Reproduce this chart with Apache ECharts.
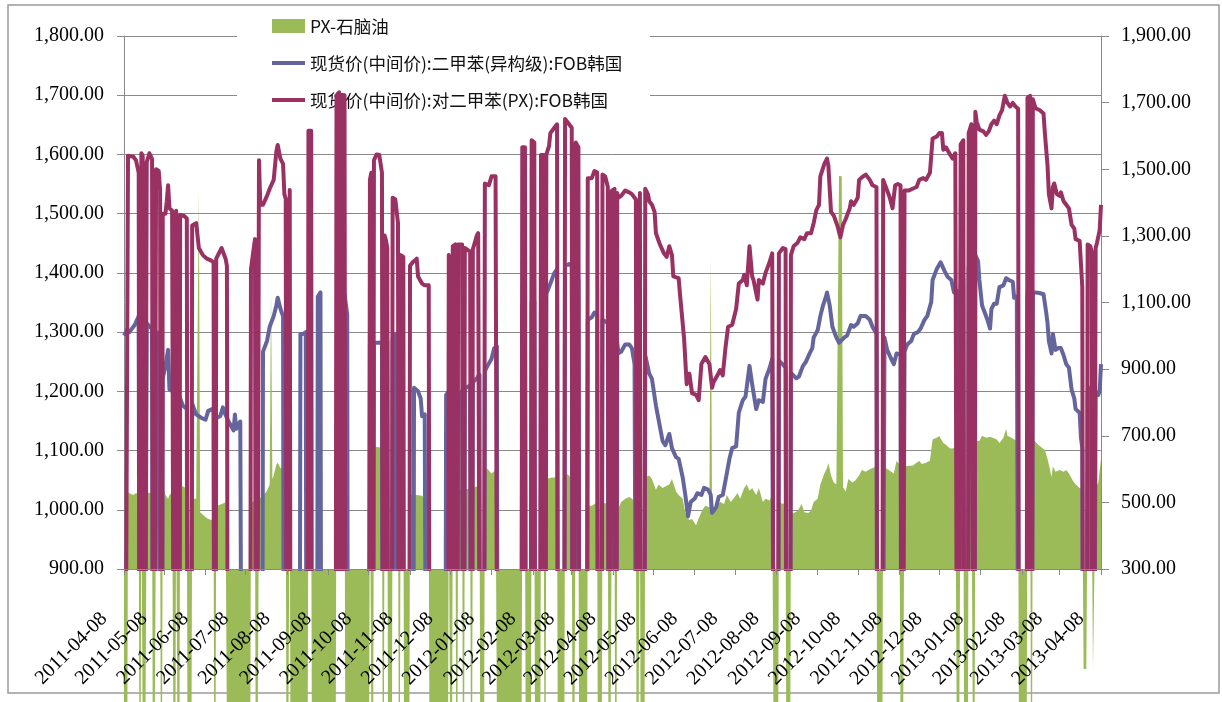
<!DOCTYPE html>
<html><head><meta charset="utf-8">
<script src="https://cdn.jsdelivr.net/npm/echarts@6/dist/echarts.min.js"></script>
<style>html,body{margin:0;padding:0;background:#fff}#c{width:1222px;height:702px}</style>
</head><body><div id="c"></div>
<script>
// x axis: calendar days from START_DATE to END_DATE; data x = day offset from START_DATE
const START_DATE = '2011-04-08';
const END_DATE = '2013-04-08';
const SERIES_NAMES = ['PX-石脑油', '现货价(中间价):二甲苯(异构级):FOB韩国', '现货价(中间价):对二甲苯(PX):FOB韩国'];

// PX-naphtha spread (right axis); large negative where PX missing, 0 where both missing
const PX_NAPHTHA = [[0,-900],[2,-900],[3,530],[7,522],[9,528],[11,522],[12,-900],[13,525],[14,528],[15,-900],[17,530],[19,528],[21,530],[22,-900],[24,543],[26,549],[27,540],[28,-900],[29,549],[31,522],[33,511],[34,522],[36,530],[38,-900],[39,533],[40,535],[41,-900],[42,538],[44,549],[47,540],[48,-900],[50,-900],[51,511],[54,511],[55,505],[56,1436],[57,470],[59,463],[62,452],[65,447],[67,450],[68,-900],[69,480],[70,490],[73,495],[76,500],[77,500],[78,-900],[94,-900],[95,500],[98,505],[99,-900],[100,-900],[101,511],[104,520],[107,535],[109,554],[110,1140],[111,570],[112,581],[114,613],[115,620],[117,603],[119,600],[120,600],[121,600],[122,-900],[123,-900],[124,600],[125,-900],[137,-900],[138,650],[140,650],[141,-900],[158,-900],[159,721],[165,721],[166,-900],[183,-900],[184,667],[185,667],[186,-900],[187,667],[193,665],[194,-900],[195,660],[197,660],[198,-900],[200,-900],[201,650],[205,640],[206,-900],[207,645],[209,645],[210,-900],[213,-900],[214,522],[219,522],[220,525],[223,520],[225,511],[228,511],[229,-900],[242,-900],[243,538],[244,538],[245,-900],[246,538],[248,538],[249,-900],[250,540],[253,540],[254,-900],[255,540],[259,540],[260,-900],[261,545],[266,550],[267,-900],[269,-900],[270,603],[272,600],[275,587],[278,597],[279,597],[280,-900],[297,-900],[298,560],[300,560],[301,-900],[304,-900],[305,560],[307,565],[308,-900],[311,-900],[312,565],[314,570],[315,-900],[316,570],[320,575],[322,575],[324,581],[325,-900],[329,-900],[330,590],[333,581],[335,570],[336,-900],[337,-900],[338,560],[340,555],[341,-900],[346,-900],[347,490],[350,490],[352,495],[354,500],[355,-900],[357,-900],[358,500],[362,495],[363,-900],[364,-900],[365,480],[367,478],[368,-900],[369,474],[370,474],[372,501],[375,511],[378,516],[380,511],[383,501],[384,-900],[386,560],[387,-900],[389,-900],[390,576],[393,581],[395,570],[398,538],[400,554],[403,543],[405,548],[408,554],[410,570],[413,533],[415,522],[418,511],[420,468],[423,447],[425,450],[428,431],[430,452],[433,479],[435,490],[438,485],[439,1235],[440,474],[443,485],[446,501],[449,495],[451,522],[454,501],[456,511],[459,528],[461,511],[464,543],[466,554],[468,535],[470,543],[473,522],[475,543],[478,501],[480,511],[483,506],[485,522],[486,520],[487,-900],[489,-900],[490,501],[493,495],[495,501],[496,-900],[498,-900],[499,470],[501,468],[504,474],[507,495],[509,470],[512,468],[514,475],[516,501],[519,511],[521,554],[524,587],[526,603],[527,619],[529,581],[531,560],[533,554],[535,1480],[537,1479],[538,545],[540,533],[542,570],[545,560],[547,565],[550,581],[552,597],[555,592],[557,597],[560,603],[563,608],[564,-900],[567,-900],[568,608],[571,600],[573,595],[576,587],[578,624],[580,615],[581,615],[582,-900],[583,-900],[584,608],[587,610],[590,610],[593,619],[595,624],[597,615],[600,619],[603,625],[605,689],[608,694],[610,699],[613,678],[615,673],[618,662],[620,662],[622,665],[623,662],[624,-900],[625,-900],[626,670],[628,675],[629,-900],[631,-900],[632,680],[634,680],[635,682],[636,-900],[637,684],[640,684],[642,700],[645,694],[648,697],[650,694],[653,689],[655,678],[658,694],[660,721],[661,700],[664,694],[666,689],[669,684],[670,-900],[675,-900],[676,694],[678,694],[679,-900],[680,690],[684,673],[689,657],[691,630],[692,614],[694,576],[695,608],[697,592],[700,597],[703,592],[705,597],[707,587],[710,565],[712,554],[715,543],[717,540],[718,0],[720,0],[721,543],[724,540],[725,0],[727,545],[729,560],[731,630]];

// MX isomer-grade FOB Korea (left axis); 0 = missing
const MX_FOB_KOREA = [[0,1294],[2,1303],[4,1300],[8,1312],[11,1327],[12,0],[13,1320],[14,1318],[15,0],[17,1315],[19,1310],[21,1305],[22,0],[24,1300],[26,1298],[27,1297],[28,0],[29,1222],[31,1243],[33,1270],[34,1203],[37,1200],[38,0],[39,1198],[40,1195],[41,0],[42,1188],[44,1176],[47,1170],[48,0],[50,0],[51,1179],[54,1161],[58,1155],[61,1152],[63,1167],[66,1170],[67,1165],[68,0],[69,1155],[72,1158],[74,1173],[76,1160],[77,1155],[79,1146],[82,1134],[83,1161],[84,1137],[87,1149],[88,1146],[89,0],[103,0],[104,1267],[107,1285],[109,1309],[112,1327],[114,1345],[115,1358],[117,1340],[118,1333],[119,1327],[120,0],[131,0],[132,1297],[134,1297],[136,1300],[137,0],[144,0],[145,1360],[147,1367],[148,0],[160,0],[161,1382],[163,1370],[165,1364],[167,1330],[168,0],[183,0],[184,1282],[185,1282],[186,0],[187,1282],[191,1282],[193,1283],[194,0],[195,1285],[197,1285],[198,0],[200,0],[201,1290],[203,1297],[204,0],[216,0],[217,1206],[220,1200],[222,1188],[223,1158],[225,1161],[226,1164],[227,0],[240,0],[241,1194],[243,1200],[244,1196],[245,0],[246,1194],[248,1194],[249,0],[250,1196],[253,1200],[254,0],[255,1205],[259,1210],[260,0],[261,1215],[264,1222],[266,1228],[267,0],[269,0],[270,1234],[272,1243],[275,1255],[277,1273],[279,1276],[280,0],[297,0],[298,1345],[300,1348],[301,0],[304,0],[305,1350],[307,1352],[308,0],[311,0],[312,1355],[314,1358],[315,0],[316,1365],[318,1376],[322,1400],[324,1406],[325,0],[329,0],[330,1412],[333,1415],[335,1412],[336,0],[337,0],[338,1406],[340,1388],[341,0],[346,0],[347,1321],[350,1325],[352,1333],[354,1330],[355,0],[357,0],[358,1321],[360,1318],[362,1315],[363,0],[364,0],[365,1315],[367,1300],[368,0],[369,1282],[370,1264],[372,1267],[375,1279],[378,1279],[380,1273],[382,1246],[384,0],[386,1250],[387,0],[389,0],[390,1261],[393,1230],[395,1221],[398,1176],[400,1152],[403,1116],[405,1109],[408,1128],[410,1104],[413,1089],[415,1086],[418,1055],[420,1025],[422,989],[424,1013],[427,1019],[429,1028],[432,1025],[434,1037],[437,1034],[439,1025],[440,995],[443,1004],[445,1022],[448,1025],[450,1049],[453,1086],[455,1104],[458,1107],[460,1164],[463,1185],[465,1191],[468,1243],[470,1212],[473,1170],[475,1185],[478,1182],[480,1221],[483,1239],[485,1255],[486,1252],[487,0],[489,0],[490,1252],[493,1245],[495,1240],[496,0],[498,0],[499,1231],[503,1222],[505,1225],[508,1243],[510,1249],[513,1264],[515,1273],[516,1291],[519,1303],[521,1327],[523,1345],[525,1358],[526,1367],[528,1345],[530,1309],[533,1291],[535,1282],[536,1279],[539,1291],[541,1294],[544,1312],[546,1309],[549,1315],[551,1327],[555,1327],[558,1321],[560,1309],[563,1297],[564,0],[567,0],[569,1291],[571,1270],[574,1255],[576,1246],[578,1264],[581,1262],[582,0],[583,0],[584,1267],[586,1279],[589,1285],[591,1297],[594,1300],[596,1306],[599,1321],[601,1327],[604,1351],[605,1388],[608,1406],[611,1418],[614,1403],[616,1394],[619,1388],[621,1367],[623,1370],[624,0],[625,0],[626,1380],[628,1390],[629,0],[631,0],[632,1410],[634,1420],[635,1425],[636,0],[637,1430],[639,1420],[640,1388],[642,1345],[644,1333],[646,1321],[648,1306],[649,1339],[651,1348],[653,1348],[655,1376],[658,1379],[660,1391],[662,1388],[665,1385],[666,1358],[668,1360],[669,1362],[670,0],[675,0],[676,1365],[678,1367],[679,0],[680,1367],[682,1367],[685,1366],[688,1364],[690,1333],[691,1315],[692,1285],[694,1264],[695,1297],[697,1270],[699,1273],[701,1273],[703,1261],[705,1246],[707,1240],[709,1203],[711,1188],[712,1170],[715,1164],[716,1122],[717,1104],[718,0],[720,0],[721,1200],[723,1206],[724,1205],[725,0],[727,1200],[729,1194],[730,1200],[731,1246]];

// PX FOB Korea (left axis); 0 = missing
const PX_FOB_KOREA = [[0,0],[3,1598],[7,1596],[9,1590],[11,1569],[12,0],[13,1602],[14,1598],[15,0],[17,1587],[19,1602],[21,1592],[22,0],[24,1575],[26,1572],[27,1540],[28,0],[29,1500],[31,1500],[32,1521],[33,1548],[34,1509],[36,1505],[38,0],[39,1505],[40,1505],[41,0],[42,1498],[45,1496],[47,1492],[48,0],[50,0],[51,1480],[54,1484],[56,1442],[59,1430],[62,1424],[65,1421],[67,1418],[68,0],[69,1424],[70,1424],[73,1442],[76,1424],[77,1412],[78,0],[94,0],[95,1406],[98,1457],[99,0],[100,0],[101,1590],[102,1515],[104,1515],[107,1530],[109,1542],[112,1557],[114,1605],[115,1616],[117,1593],[119,1584],[120,1533],[121,1525],[122,0],[123,0],[124,1540],[125,0],[137,0],[138,1640],[140,1640],[141,0],[158,0],[159,1700],[161,1705],[162,0],[163,1700],[165,1700],[166,0],[183,0],[184,1557],[185,1569],[186,0],[187,1590],[189,1600],[191,1599],[193,1569],[194,0],[195,1463],[196,1455],[197,1442],[198,0],[200,0],[201,1527],[203,1524],[205,1484],[206,0],[207,1430],[209,1427],[210,0],[213,0],[214,1412],[216,1418],[219,1424],[220,1394],[223,1382],[225,1379],[228,1379],[229,0],[242,0],[243,1430],[244,1433],[245,0],[246,1445],[248,1448],[249,0],[250,1448],[253,1448],[254,0],[255,1442],[256,1440],[259,1436],[260,0],[261,1440],[262,1442],[264,1463],[265,1467],[266,1465],[267,0],[269,0],[270,1551],[271,1554],[273,1548],[275,1563],[278,1563],[279,1560],[280,0],[297,0],[298,1612],[300,1612],[301,0],[304,0],[305,1624],[307,1620],[308,0],[311,0],[312,1599],[314,1599],[315,0],[316,1600],[318,1614],[319,1636],[322,1645],[324,1651],[325,0],[329,0],[330,1660],[333,1651],[335,1645],[336,0],[337,0],[338,1620],[340,1612],[341,0],[346,0],[347,1560],[350,1560],[352,1572],[354,1570],[355,0],[357,0],[358,1566],[360,1563],[362,1545],[363,0],[364,0],[365,1539],[367,1542],[368,0],[369,1535],[370,1527],[372,1530],[375,1539],[378,1536],[380,1533],[383,1524],[384,0],[386,1535],[387,0],[389,0],[390,1542],[392,1533],[393,1521],[395,1515],[397,1503],[398,1467],[401,1448],[404,1433],[406,1427],[408,1445],[410,1430],[411,1394],[415,1391],[416,1364],[419,1291],[421,1212],[423,1230],[425,1197],[428,1194],[430,1185],[432,1246],[435,1258],[438,1246],[440,1206],[441,1215],[444,1227],[446,1236],[448,1227],[450,1273],[452,1309],[455,1312],[458,1339],[460,1382],[463,1388],[464,1397],[466,1379],[468,1445],[470,1394],[471,1388],[474,1355],[475,1388],[478,1382],[480,1400],[483,1418],[485,1433],[486,1430],[487,0],[489,0],[490,1433],[493,1442],[495,1440],[496,0],[498,0],[499,1430],[501,1445],[504,1451],[506,1460],[509,1457],[511,1467],[514,1467],[516,1484],[518,1506],[520,1515],[521,1563],[522,1566],[524,1584],[526,1593],[527,1581],[529,1503],[531,1497],[534,1478],[536,1460],[538,1481],[540,1491],[543,1509],[544,1521],[546,1515],[549,1527],[550,1557],[553,1563],[555,1566],[558,1557],[560,1548],[563,1545],[564,0],[567,0],[568,1557],[571,1539],[573,1527],[575,1509],[577,1548],[579,1550],[581,1548],[582,0],[583,0],[584,1539],[587,1539],[590,1542],[593,1545],[595,1557],[598,1560],[600,1557],[603,1569],[605,1627],[608,1630],[610,1636],[612,1636],[613,1608],[615,1612],[618,1600],[620,1593],[622,1602],[623,1600],[624,0],[625,0],[626,1617],[628,1624],[629,0],[631,0],[632,1636],[634,1651],[635,1654],[636,0],[637,1672],[638,1655],[640,1642],[643,1639],[645,1633],[647,1639],[649,1651],[651,1657],[653,1651],[655,1666],[657,1675],[659,1699],[661,1687],[663,1681],[665,1687],[667,1681],[669,1677],[670,0],[675,0],[676,1696],[678,1699],[679,0],[680,1693],[682,1678],[685,1675],[688,1669],[689,1636],[691,1581],[692,1533],[694,1509],[695,1545],[696,1551],[698,1533],[700,1530],[701,1536],[703,1521],[705,1515],[707,1509],[709,1481],[711,1475],[712,1457],[715,1454],[717,1376],[718,0],[720,0],[721,1448],[723,1445],[724,1436],[725,0],[727,1442],[728,1451],[730,1472],[731,1515]];

const LEFT_AXIS = {min: 900, max: 1800, interval: 100};
const RIGHT_AXIS = {min: 300, max: 1900, interval: 200};

// categories: every calendar day
const CATS = [];
(function () {
  const s = new Date(START_DATE + 'T00:00:00Z').getTime();
  const e = new Date(END_DATE + 'T00:00:00Z').getTime();
  for (let t = s; t <= e; t += 86400000) CATS.push(new Date(t).toISOString().slice(0, 10));
})();
const toCat = arr => arr.map(p => [CATS[p[0]], p[1]]);
const isMonthTick = (i, v) => String(v).slice(8, 10) === '08';
const fmt = v => Number(v).toLocaleString('en-US', {minimumFractionDigits: 2, maximumFractionDigits: 2});

// legend icon for line series: a 4px bar inside a 33x14 box (moveTo points set the box)
const LINE_ICON = 'path://M0,0M33,14M0,5L33,5L33,9L0,9Z';
const GRAY = '#898989';
const chart = echarts.init(document.getElementById('c'), null, {renderer: 'canvas'});
chart.setOption({
  animation: false,
  backgroundColor: '#fff',
  textStyle: {fontFamily: 'Liberation Serif'},
  grid: {left: 124, right: 121, top: 36, bottom: 133, containLabel: false},
  legend: {
    orient: 'vertical', left: 272, top: 16, padding: 0, itemGap: 17,
    itemWidth: 33, itemHeight: 14,
    textStyle: {fontFamily: 'Noto Sans CJK SC', fontSize: 17.5, color: '#111', lineHeight: 20},
    data: [{name: SERIES_NAMES[0], icon: 'rect'}, {name: SERIES_NAMES[1], icon: LINE_ICON}, {name: SERIES_NAMES[2], icon: LINE_ICON}]
  },
  xAxis: {
    type: 'category', data: CATS, boundaryGap: false, z: 5,
    axisLine: {lineStyle: {color: GRAY, width: 1}},
    axisTick: {show: true, interval: isMonthTick, length: 6, lineStyle: {color: GRAY}},
    axisLabel: {interval: isMonthTick, rotate: 45, fontSize: 20, color: '#000', margin: 27,
      padding: [0, 28, 0, 0], fontFamily: 'Liberation Serif'},
    splitLine: {show: false}
  },
  yAxis: [
    {type: 'value', position: 'left', min: LEFT_AXIS.min, max: LEFT_AXIS.max, interval: LEFT_AXIS.interval,
      axisLine: {show: true, lineStyle: {color: GRAY}},
      axisTick: {show: true, length: 7, lineStyle: {color: GRAY}},
      axisLabel: {formatter: fmt, fontSize: 20, color: '#000', margin: 20, fontFamily: 'Liberation Serif'},
      splitLine: {show: true, lineStyle: {color: GRAY, width: 1}}},
    {type: 'value', position: 'right', min: RIGHT_AXIS.min, max: RIGHT_AXIS.max, interval: RIGHT_AXIS.interval,
      axisLine: {show: true, lineStyle: {color: GRAY}},
      axisTick: {show: true, length: 8, lineStyle: {color: GRAY}},
      axisLabel: {formatter: fmt, fontSize: 20, color: '#000', margin: 20, fontFamily: 'Liberation Serif'},
      splitLine: {show: false}}
  ],
  series: [
    {name: SERIES_NAMES[0], type: 'line', yAxisIndex: 1, data: toCat(PX_NAPHTHA), symbol: 'none', clip: false,
      lineStyle: {width: 0}, itemStyle: {color: '#9BBB59'}, areaStyle: {color: '#9BBB59', opacity: 1}, z: 2},
    {name: SERIES_NAMES[1], type: 'line', yAxisIndex: 0, data: toCat(MX_FOB_KOREA), symbol: 'none',
      lineStyle: {width: 4, color: '#65659E', join: 'round'}, itemStyle: {color: '#65659E'}, z: 3},
    {name: SERIES_NAMES[2], type: 'line', yAxisIndex: 0, data: toCat(PX_FOB_KOREA), symbol: 'none',
      lineStyle: {width: 4, color: '#993263', join: 'round'}, itemStyle: {color: '#993263'}, z: 4}
  ],
  graphic: [
    {type: 'rect', shape: {x: 237, y: 8, width: 413, height: 112}, style: {fill: '#fff'}, z: 1, silent: true},
    {type: 'rect', shape: {x: 8, y: 5, width: 1211, height: 688}, style: {fill: null, stroke: '#9a9a9a', lineWidth: 1.5}, z: 0, silent: true}
  ]
});
</script>
</body></html>
